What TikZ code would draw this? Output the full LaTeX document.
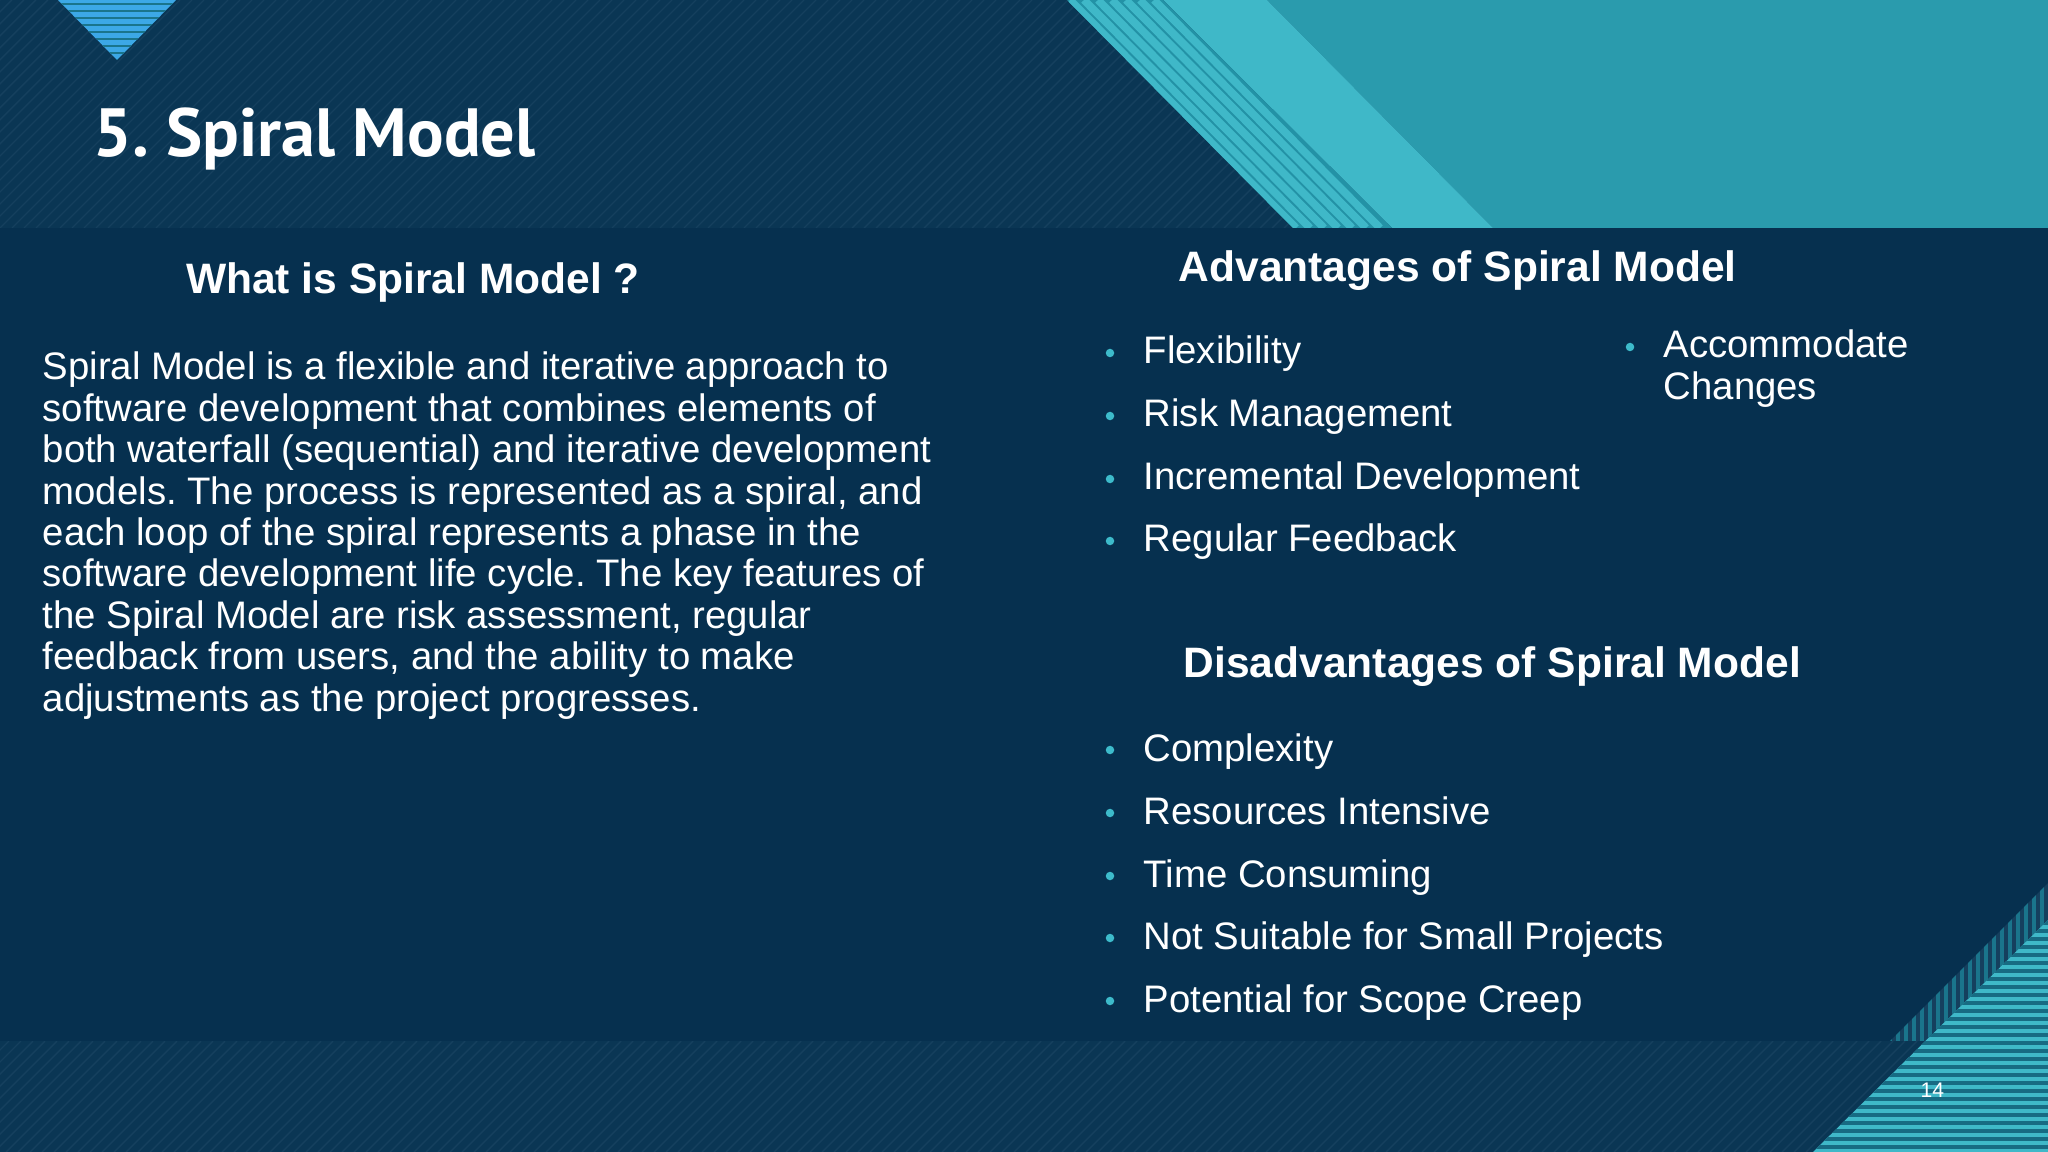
\documentclass[tikz,border=0pt]{standalone}
\usepackage{fontspec}
\setmainfont{Liberation Sans}
\newfontfamily\titlefont{PT Sans}
\frenchspacing
\definecolor{navy}{HTML}{06304F}
\definecolor{navyB}{HTML}{0A3654}
\definecolor{navyS}{HTML}{15405E}
\definecolor{tealL}{HTML}{3FB8C8}
\definecolor{tealD}{HTML}{2A9BAD}
\definecolor{tealS}{HTML}{2392A6}
\definecolor{blueT}{HTML}{3CA8E6}
\definecolor{bul}{HTML}{3DBBCB}
\begin{document}
\begin{tikzpicture}[x=0.01cm,y=-0.01cm,
  txt/.style={anchor=base west,text=white,inner sep=0pt,font=\fontsize{10.9pt}{11.8pt}\selectfont},
  head/.style={anchor=base west,text=white,inner sep=0pt,font=\fontsize{12.1pt}{14pt}\selectfont\bfseries},
  dot/.style={circle,fill=bul,inner sep=0pt,minimum size=0.085cm}]
\useasboundingbox (0,0) rectangle (2048,1152);
\fill[navy] (0,0) rectangle (2048,1152);
% top band
\fill[navyB] (0,0) rectangle (2048,228);
\begin{scope}
\clip (0,0) rectangle (1300,228);
\foreach \i in {-300,-288,...,1300} \draw[navyS,line width=0.4pt] (\i,228) -- (\i+228,0);
\end{scope}
% bottom band
\fill[navyB] (0,1041) rectangle (2048,1152);
\begin{scope}
\clip (0,1041) rectangle (2048,1152);
\foreach \i in {-150,-138,...,2048} \draw[navyS,line width=0.4pt] (\i,1152) -- (\i+111,1041);
\end{scope}
% top-right shapes
\fill[tealD] (1267,0) -- (2048,0) -- (2048,228) -- (1493,228) -- cycle;
\fill[tealL] (1163,0) -- (1267,0) -- (1493,228) -- (1392,228) -- cycle;
\fill[tealS] (1067,0) -- (1163,0) -- (1392,228) -- (1293,228) -- cycle;
\begin{scope}
\clip (1067,0) -- (1163,0) -- (1392,228) -- (1293,228) -- cycle;
\foreach \k in {0,14,...,96} \draw[tealL,line width=2.2pt] (1070+\k,0) -- (1296+\k,228);
\end{scope}
% top-left triangle
\begin{scope}
\clip (58,0) -- (176,0) -- (117,60) -- cycle;
\fill[blueT] (58,0) rectangle (176,60);
\foreach \j in {4,11,...,60} \draw[tealS!70!navy,line width=0.8pt] (58,\j) -- (176,\j);
\end{scope}
% bottom-right
\begin{scope}
\clip (1890,1041) -- (2048,883) -- (2048,920) -- (1925,1041) -- cycle;
\fill[navyS] (1850,880) rectangle (2048,1041);
\foreach \k in {1890,1898,...,2048} \draw[tealS!70!navy,line width=1pt] (\k,880) -- (\k,1041);
\end{scope}
\begin{scope}
\clip (1813,1152) -- (2048,920) -- (2048,1152) -- cycle;
\fill[tealL] (1800,900) rectangle (2048,1152);
\foreach \j in {923,931,...,1152} \draw[tealS!60!navy,line width=1.3pt] (1800,\j) -- (2048,\j);
\end{scope}
% title
\node[anchor=base west,text=white,inner sep=0pt,font=\titlefont\bfseries\fontsize{19.4pt}{24pt}\selectfont] (title) at (93,157) {5. Spiral Model};
% left column
\node[head,anchor=base] (h1) at (413,294) {What is Spiral Model ?};
\foreach \t [count=\n from 0] in {
 {Spiral Model is a flexible and iterative approach to},
 {software development that combines elements of},
 {both waterfall (sequential) and iterative development},
 {models. The process is represented as a spiral, and},
 {each loop of the spiral represents a phase in the},
 {software development life cycle. The key features of},
 {the Spiral Model are risk assessment, regular},
 {feedback from users, and the ability to make},
 {adjustments as the project progresses.}}
 \node[txt] (b\n) at (42,380+41.4*\n) {\t};
% advantages
\node[head] (h2) at (1178,282) {Advantages of Spiral Model};
\foreach \t/\y [count=\n] in {Flexibility/364,Risk Management/427,Incremental Development/490,Regular Feedback/552}{
 \node[txt] (a\n) at (1143,\y) {\t};
 \node[dot] (ad\n) at (1110,\y-11) {};}
\node[txt] (a5) at (1663,358) {Accommodate};
\node[txt] (a6) at (1663,400) {Changes};
\node[dot] (ad5) at (1630,347) {};
% disadvantages
\node[head] (h3) at (1183,677) {Disadvantages of Spiral Model};
\foreach \t/\y [count=\n] in {Complexity/761,Resources Intensive/824,Time Consuming/887,Not Suitable for Small Projects/949,Potential for Scope Creep/1012}{
 \node[txt] (d\n) at (1143,\y) {\t};
 \node[dot] (dd\n) at (1110,\y-11) {};}
\node[anchor=base west,text=white,inner sep=0pt,font=\fontsize{6pt}{7pt}\selectfont] (pg) at (1920,1097) {14};
\end{tikzpicture}
\end{document}
